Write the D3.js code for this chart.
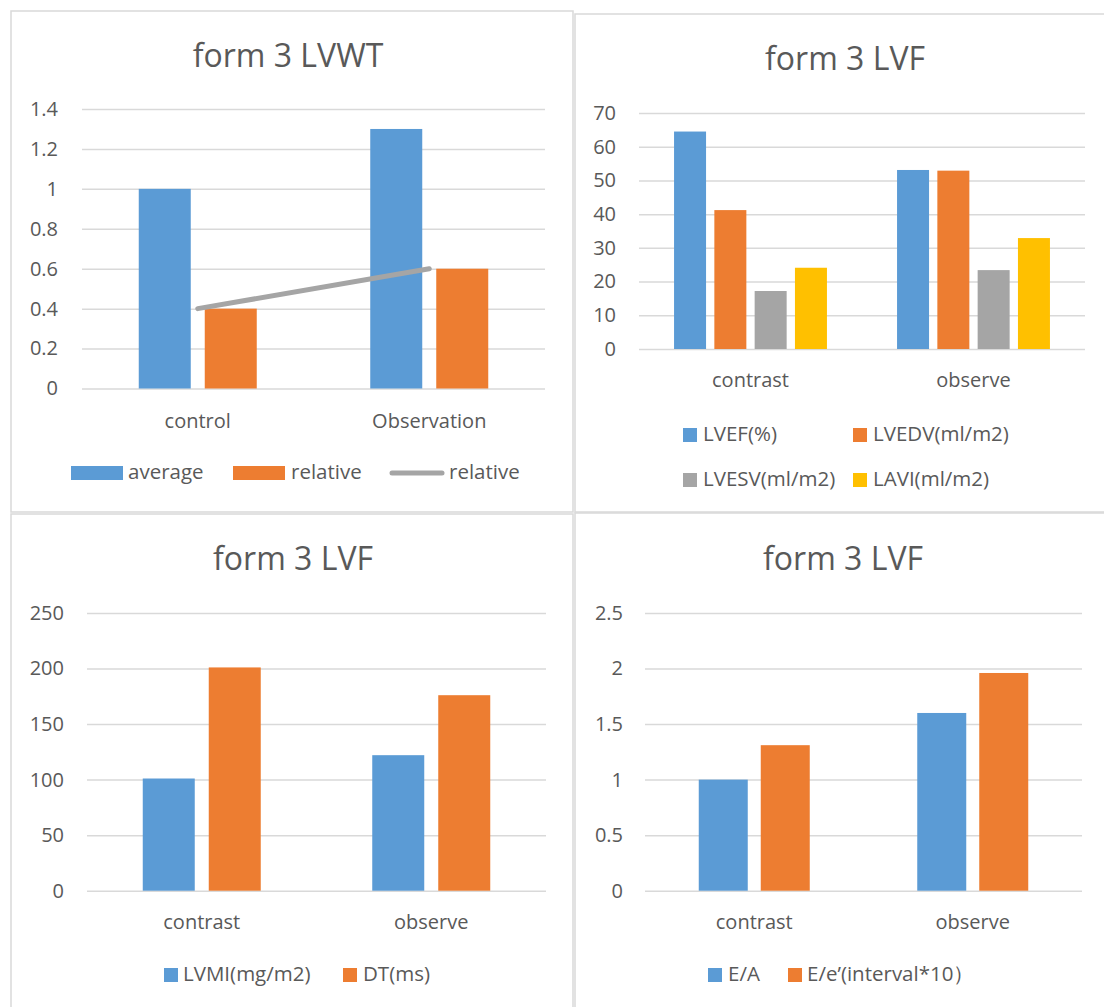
<!DOCTYPE html>
<html>
<head>
<meta charset="utf-8">
<script src="https://cdn.jsdelivr.net/npm/d3@7"></script>
<style>
  html, body { margin: 0; padding: 0; background: #fff; }
  svg { display: block; }
  text { font-family: "Open Sans", "Noto Sans", sans-serif; fill: #595959; }
</style>
</head>
<body>
<svg id="chart" width="1104" height="1007"></svg>
<script>
// ---------- DATA ----------
const lvwtCategories = ["control", "Observation"];
const lvwtAverage = [1.0, 1.3];
const lvwtRelative = [0.4, 0.6];
const lvwtTrend = [0.4, 0.6];
const lvwtTicks = [0, 0.2, 0.4, 0.6, 0.8, 1, 1.2, 1.4];

const lvfCategories = ["contrast", "observe"];
const lvefValues = [64.5, 53.1];
const lvedvValues = [41.2, 52.9];
const lvesvValues = [17.2, 23.4];
const laviValues = [24.1, 32.9];
const lvfTicks = [0, 10, 20, 30, 40, 50, 60, 70];

const lvmiValues = [101, 122];
const dtValues = [201, 176];
const massTicks = [0, 50, 100, 150, 200, 250];

const eaValues = [1.0, 1.6];
const eeValues = [1.31, 1.96];
const ratioTicks = [0, 0.5, 1, 1.5, 2, 2.5];

const seriesNames1 = ["average", "relative", "relative"];
const seriesNames2 = ["LVEF(%)", "LVEDV(ml/m2)", "LVESV(ml/m2)", "LAVI(ml/m2)"];
const seriesNames3 = ["LVMI(mg/m2)", "DT(ms)"];
const seriesNames4 = ["E/A", "E/e\u2019(interval*10\uFF09"];
const titles = ["form 3 LVWT", "form 3 LVF", "form 3 LVF", "form 3 LVF"];

// ---------- STYLE ----------
const COLORS = ["#5b9bd5", "#ed7d31", "#a5a5a5", "#ffc000"];
const GRID = "#d9d9d9";
const svg = d3.select("#chart");

function panel(cfg) {
  const g = svg.append("g");
  g.append("rect")
    .attr("x", cfg.box[0]).attr("y", cfg.box[1])
    .attr("width", cfg.box[2] - cfg.box[0]).attr("height", cfg.box[3] - cfg.box[1])
    .attr("fill", "#fff").attr("stroke", GRID).attr("stroke-width", 1.5);
  g.append("text").attr("x", cfg.titleX).attr("y", cfg.titleY)
    .attr("text-anchor", "middle").style("font-size", "32px").text(cfg.title);

  const y = d3.scaleLinear().domain([0, cfg.yMax]).range([cfg.yZero, cfg.yTop]);
  const x = d3.scaleBand().domain(cfg.categories).range([cfg.x0, cfg.x1]);

  const axis = d3.axisLeft(y).tickValues(cfg.ticks)
    .tickSize(-(cfg.x1 - cfg.x0)).tickPadding(cfg.tickPad)
    .tickFormat(d => String(d));
  const ag = g.append("g").attr("transform", `translate(${cfg.x0},0)`).call(axis);
  ag.select(".domain").remove();
  ag.selectAll(".tick line").attr("stroke", GRID).attr("stroke-width", 1.5);
  ag.selectAll(".tick text").style("font-size", "20px")
    .style("font-family", '"Open Sans", sans-serif').attr("fill", "#595959");

  const n = cfg.series.length;
  const gw = n * cfg.bw + (n - 1) * cfg.gap;
  cfg.categories.forEach((cat, ci) => {
    const c = x(cat) + x.bandwidth() / 2;
    const xs = d3.scaleBand().domain(d3.range(n))
      .range([c - gw / 2, c + gw / 2]).paddingInner(cfg.gap / (cfg.bw + cfg.gap));
    cfg.series.forEach((vals, si) => {
      g.append("rect")
        .attr("x", xs(si)).attr("width", xs.bandwidth())
        .attr("y", y(vals[ci])).attr("height", y(0) - y(vals[ci]))
        .attr("fill", COLORS[si]);
    });
  });

  if (cfg.line) {
    const line = d3.line()
      .x((d, i) => x(cfg.categories[i]) + x.bandwidth() / 2)
      .y(d => y(d));
    g.append("path").datum(cfg.line).attr("d", line)
      .attr("fill", "none").attr("stroke", "#a5a5a5")
      .attr("stroke-width", 5).attr("stroke-linecap", "round");
  }

  cfg.categories.forEach(cat => {
    g.append("text").attr("x", x(cat) + x.bandwidth() / 2).attr("y", cfg.catY)
      .attr("text-anchor", "middle").style("font-size", "20px").text(cat);
  });

  cfg.legend.forEach(item => {
    if (item.type === "line") {
      g.append("line").attr("x1", item.x + 2).attr("x2", item.x + item.w - 2)
        .attr("y1", item.y + item.h / 2).attr("y2", item.y + item.h / 2)
        .attr("stroke", item.color).attr("stroke-width", 5).attr("stroke-linecap", "round");
    } else {
      g.append("rect").attr("x", item.x).attr("y", item.y)
        .attr("width", item.w).attr("height", item.h).attr("fill", item.color);
    }
    g.append("text").attr("x", item.tx).attr("y", item.ty)
      .style("font-size", "20.5px").text(item.label);
  });
}

panel({
  box: [11, 11, 573, 512], title: titles[0], titleX: 288, titleY: 67,
  categories: lvwtCategories, series: [lvwtAverage, lvwtRelative], line: lvwtTrend,
  ticks: lvwtTicks, yMax: 1.4, yZero: 388.5, yTop: 109,
  x0: 82, x1: 545, bw: 52, gap: 14, tickPad: 24, catY: 428,
  legend: [
    { x: 71, y: 466, w: 52, h: 14, color: COLORS[0], tx: 128, ty: 479, label: seriesNames1[0] },
    { x: 233, y: 466, w: 52, h: 14, color: COLORS[1], tx: 291, ty: 479, label: seriesNames1[1] },
    { type: "line", x: 390, y: 466, w: 54, h: 14, color: COLORS[2], tx: 449, ty: 479, label: seriesNames1[2] }
  ]
});

panel({
  box: [575, 14, 1112, 512], title: titles[1], titleX: 845, titleY: 70,
  categories: lvfCategories, series: [lvefValues, lvedvValues, lvesvValues, laviValues],
  ticks: lvfTicks, yMax: 70, yZero: 349, yTop: 113,
  x0: 639, x1: 1085, bw: 32, gap: 8.3, tickPad: 23, catY: 387,
  legend: [
    { x: 683, y: 428, w: 14, h: 14, color: COLORS[0], tx: 703, ty: 441, label: seriesNames2[0] },
    { x: 853, y: 428, w: 14, h: 14, color: COLORS[1], tx: 873, ty: 441, label: seriesNames2[1] },
    { x: 683, y: 473, w: 14, h: 14, color: COLORS[2], tx: 703, ty: 486, label: seriesNames2[2] },
    { x: 853, y: 473, w: 14, h: 14, color: COLORS[3], tx: 873, ty: 486, label: seriesNames2[3] }
  ]
});

panel({
  box: [11, 514, 573, 1014], title: titles[2], titleX: 293, titleY: 570,
  categories: lvfCategories, series: [lvmiValues, dtValues],
  ticks: massTicks, yMax: 250, yZero: 890.7, yTop: 613,
  x0: 87, x1: 546, bw: 52, gap: 14, tickPad: 23, catY: 929,
  legend: [
    { x: 164, y: 968, w: 14, h: 14, color: COLORS[0], tx: 183, ty: 981, label: seriesNames3[0] },
    { x: 343, y: 968, w: 14, h: 14, color: COLORS[1], tx: 363, ty: 981, label: seriesNames3[1] }
  ]
});

panel({
  box: [575, 513, 1112, 1014], title: titles[3], titleX: 843, titleY: 570,
  categories: lvfCategories, series: [eaValues, eeValues],
  ticks: ratioTicks, yMax: 2.5, yZero: 890.7, yTop: 613,
  x0: 645, x1: 1082, bw: 49, gap: 13, tickPad: 22, catY: 929,
  legend: [
    { x: 708, y: 968, w: 14, h: 14, color: COLORS[0], tx: 728, ty: 981, label: seriesNames4[0] },
    { x: 788, y: 968, w: 14, h: 14, color: COLORS[1], tx: 807, ty: 981, label: seriesNames4[1] }
  ]
});
</script>
</body>
</html>
